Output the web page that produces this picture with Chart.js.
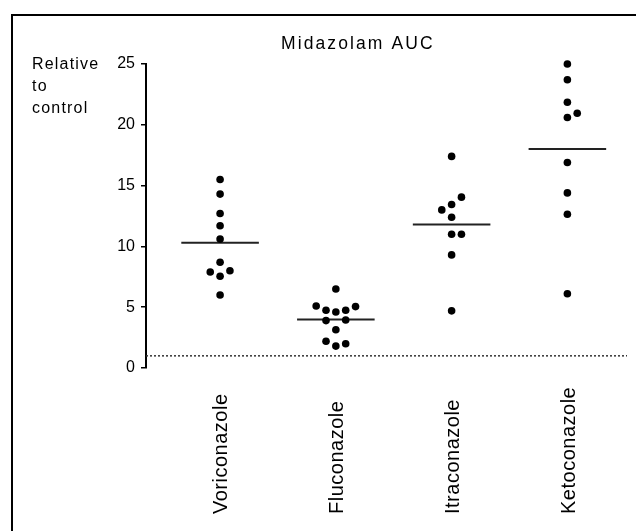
<!DOCTYPE html>
<html>
<head>
<meta charset="utf-8">
<script src="https://cdn.jsdelivr.net/npm/chart.js@4.4.0/dist/chart.umd.min.js"></script>
<style>
  body { margin: 0; background: #fff; }
  canvas { display: block; }
</style>
</head>
<body>
<canvas id="aucChart" width="636" height="531"></canvas>
<script>
const chartTitle = 'Midazolam AUC'
const yLabelLines = ['Relative', 'to', 'control']
const categories = ['Voriconazole', 'Fluconazole', 'Itraconazole', 'Ketoconazole']

// AUC ratios per subject
const voriconazole = [15.5, 14.3, 12.7, 11.7, 10.6, 8.7, 7.9, 8.0, 7.55, 6.0]
const fluconazole = [6.5, 5.1, 4.75, 4.6, 4.75, 5.05, 3.9, 3.95, 3.15, 2.2, 1.8, 2.0]
const itraconazole = [17.4, 14.05, 13.45, 13.0, 12.4, 11.0, 11.0, 9.3, 4.7]
const ketoconazole = [25.0, 23.7, 21.85, 20.95, 20.6, 16.9, 14.4, 12.65, 6.1]

// side-by-side column of each dot within its group (beeswarm)
const voriCols = [0, 0, 0, 0, 0, 0, -1, 1, 0, 0]
const flucoCols = [0, -2, -1, 0, 1, 2, -1, 1, 0, -1, 0, 1]
const itraCols = [0, 1, 0, -1, 0, 0, 1, 0, 0]
const ketoCols = [0, 0, 0, 1, 0, 0, 0, 0, 0]

const medians = [10.3, 3.98, 11.8, 18.0]
const controlLevel = 1
const yMin = 0
const yMax = 25
const yStep = 5

const xMin = 0.36
const xMax = 4.515
const colStep = 0.085
const medianHalf = 0.335

const groups = [voriconazole, fluconazole, itraconazole, ketoconazole]
const groupCols = [voriCols, flucoCols, itraCols, ketoCols]
const fontFamily = '"Liberation Sans", Arial, Helvetica, sans-serif'

const dotData = groups.flatMap((vals, i) =>
    vals.map((v, j) => ({ x: i + 1 + groupCols[i][j] * colStep, y: v })))

const medianSets = medians.map((m, i) => ({
    type: 'line',
    data: [{ x: i + 1 - medianHalf, y: m }, { x: i + 1 + medianHalf, y: m }],
    borderColor: '#222',
    borderWidth: 2,
    pointRadius: 0,
    fill: false
}))

const labelsPlugin = {
    id: 'figureLabels',
    afterDraw(chart) {
        const ctx = chart.ctx
        const xScale = chart.scales.x
        ctx.save()
        ctx.strokeStyle = '#000'
        ctx.lineWidth = 2
        ctx.strokeRect(12, 15, 700, 600)

        ctx.fillStyle = '#000'
        ctx.textAlign = 'left'
        ctx.textBaseline = 'alphabetic'
        ctx.font = `17.5px ${fontFamily}`
        ctx.letterSpacing = '2.1px'
        ctx.fillText(chartTitle, 281, 49.3)

        ctx.font = `16px ${fontFamily}`
        ctx.letterSpacing = '1.2px'
        yLabelLines.forEach((t, i) => ctx.fillText(t, 32, 68.5 + i * 22))

        ctx.font = `20px ${fontFamily}`
        ctx.letterSpacing = '0.5px'
        categories.forEach((c, i) => {
            const px = xScale.getPixelForValue(i + 1)
            ctx.save()
            ctx.translate(px + 7.3, 514)
            ctx.rotate(-Math.PI / 2)
            ctx.fillText(c, 0, 0)
            ctx.restore()
        })
        ctx.restore()
    }
}

const aucChart = new Chart(document.getElementById('aucChart').getContext('2d'), {
    type: 'scatter',
    data: {
        datasets: [
            {
                data: dotData,
                backgroundColor: '#000',
                borderColor: '#000',
                pointRadius: 3.8,
                pointBorderWidth: 0,
                clip: false
            },
            ...medianSets,
            {
                type: 'line',
                data: [{ x: xMin, y: controlLevel }, { x: xMax, y: controlLevel }],
                borderColor: '#333',
                borderWidth: 1.5,
                borderDash: [2, 2],
                pointRadius: 0,
                fill: false
            }
        ]
    },
    options: {
        responsive: false,
        animation: false,
        layout: { padding: { left: 112, right: 9, top: 64, bottom: 163 } },
        plugins: {
            legend: { display: false },
            tooltip: { enabled: false }
        },
        scales: {
            x: {
                type: 'linear',
                display: false,
                min: xMin,
                max: xMax
            },
            y: {
                min: yMin,
                max: yMax,
                afterFit: (s) => { s.width = 34 },
                border: { display: true, color: '#000', width: 2 },
                grid: { drawOnChartArea: false, tickLength: 5, color: '#000', lineWidth: 1.5 },
                ticks: {
                    stepSize: yStep,
                    padding: 6,
                    color: '#000',
                    font: { size: 16, family: fontFamily }
                }
            }
        }
    },
    plugins: [labelsPlugin]
})
</script>
</body>
</html>
